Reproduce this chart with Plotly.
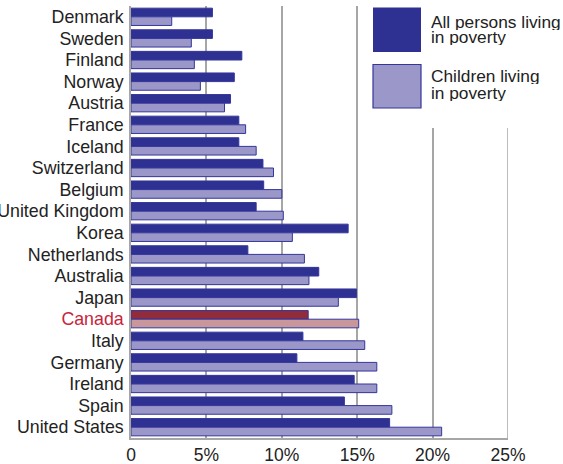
import plotly.graph_objects as go

# Poverty rates (%) by country
countries = ["Denmark", "Sweden", "Finland", "Norway", "Austria", "France", "Iceland",
             "Switzerland", "Belgium", "United Kingdom", "Korea", "Netherlands",
             "Australia", "Japan", "Canada", "Italy", "Germany", "Ireland", "Spain",
             "United States"]
all_persons = [5.4, 5.4, 7.35, 6.85, 6.6, 7.15, 7.15, 8.75, 8.8, 8.3, 14.4, 7.75,
               12.45, 14.95, 11.75, 11.4, 11.0, 14.8, 14.15, 17.15]
children = [2.7, 4.0, 4.2, 4.6, 6.2, 7.6, 8.3, 9.45, 10.0, 10.1, 10.7, 11.5,
            11.8, 13.75, 15.1, 15.5, 16.3, 16.3, 17.3, 20.6]
x_ticks = [0, 5, 10, 15, 20, 25]
x_tick_labels = ["0", "5%", "10%", "15%", "20%", "25%"]
highlight = "Canada"

DARK = "#2e3192"
LIGHT = "#9b98c9"
HI_DARK = "#922b3a"
HI_LIGHT = "#c8979c"
EDGE = "#34369a"
TEXT = "#222222"
GRID = "#a6a6a6"
FONT = "Liberation Sans, Arial, sans-serif"

dark_colors = [HI_DARK if c == highlight else DARK for c in countries]
light_colors = [HI_LIGHT if c == highlight else LIGHT for c in countries]
tick_text = [f'<span style="color:#c8243c">{c}</span>' if c == highlight else c
             for c in countries]

fig = go.Figure()
fig.add_trace(go.Bar(
    y=countries, x=all_persons, orientation="h", name="All persons living in poverty",
    marker=dict(color=dark_colors, line=dict(color=EDGE, width=1)),
))
fig.add_trace(go.Bar(
    y=countries, x=children, orientation="h", name="Children living in poverty",
    marker=dict(color=light_colors, line=dict(color=EDGE, width=1)),
))

W, H = 563, 464
ML, MR, MT, MB = 131, 55, 6, 26
pw, ph = W - ML - MR, H - MT - MB


def px(x):
    return (x - ML) / pw


def py(y):
    return (H - MB - y) / ph


shapes = [
    # white panel behind the key, hiding the upper grid lines
    dict(type="rect", xref="paper", yref="paper", layer="above",
         x0=px(365), x1=px(563), y0=py(128), y1=py(0),
         fillcolor="white", line=dict(width=0)),
    # right-hand frame line, below the key
    dict(type="line", xref="x", yref="paper", layer="above",
         x0=x_ticks[-1], x1=x_ticks[-1], y0=0, y1=py(128),
         line=dict(color=GRID, width=1.5)),
    # key swatches
    dict(type="rect", xref="paper", yref="paper", layer="above",
         x0=px(373), x1=px(421), y0=py(52), y1=py(7.5),
         fillcolor=DARK, line=dict(width=0)),
    dict(type="rect", xref="paper", yref="paper", layer="above",
         x0=px(373), x1=px(421), y0=py(108), y1=py(64.5),
         fillcolor=LIGHT, line=dict(color=EDGE, width=1.2)),
]

key_lines = [("All persons living", 21.5), ("in poverty", 37.5),
             ("Children living", 76.5), ("in poverty", 93)]
annotations = [
    dict(text=t, xref="paper", yref="paper", x=px(429), y=py(yc),
         xanchor="left", yanchor="middle", showarrow=False, height=16,
         valign="middle", font=dict(family=FONT, size=17.3, color=TEXT))
    for t, yc in key_lines
]

fig.update_layout(
    width=W, height=H,
    margin=dict(l=ML, r=MR, t=MT, b=MB, pad=0),
    paper_bgcolor="white", plot_bgcolor="white",
    barmode="group", bargap=0.2, bargroupgap=0,
    showlegend=False,
    shapes=shapes, annotations=annotations,
    font=dict(family=FONT, size=17.5, color=TEXT),
    xaxis=dict(range=[0, 25], tickvals=x_ticks, ticktext=x_tick_labels,
               showgrid=True, gridcolor=GRID, gridwidth=1.5, automargin=False,
               zeroline=False, showline=True, linecolor=GRID, linewidth=1.5,
               ticks="", tickfont=dict(size=17.5, color=TEXT), fixedrange=True),
    yaxis=dict(autorange="reversed", tickvals=countries, ticktext=tick_text,
               showgrid=False, zeroline=False, showline=True, linecolor=GRID,
               linewidth=1.5, ticks="", automargin=False, ticklabelstandoff=2,
               tickfont=dict(size=17.8, color=TEXT), fixedrange=True),
)

fig.write_html("out.html")
